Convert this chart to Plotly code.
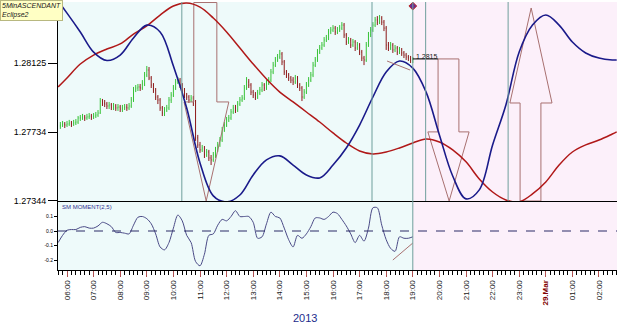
import pandas as pd
import plotly.graph_objects as go

DAY1 = "2013-03-28 "
DAY2 = "2013-03-29 "

# ---------------- 5-minute candles (05:45 .. 19:00) ----------------
candle_start = DAY1 + "05:45"
first_open = 1.27770
close = [
1.27775,1.27781,1.27775,1.27781,1.27787,1.27781,1.27787,1.27792,1.27815,1.27815,
1.27821,1.27815,1.27821,1.27826,1.27821,1.27826,1.27832,1.27843,1.27911,1.27900,
1.27894,1.27883,1.27889,1.27877,1.27883,1.27872,1.27877,1.27866,1.27872,1.27877,
1.27872,1.27883,1.27917,1.27974,1.27985,1.27991,1.27985,1.28008,1.28059,1.28087,
1.28042,1.28002,1.27974,1.27934,1.27917,1.27872,1.27843,1.27860,1.27872,1.27917,
1.27945,1.27985,1.28019,1.28030,1.28002,1.27974,1.27945,1.27934,1.27917,1.27928,
1.27900,1.27702,1.27662,1.27634,1.27645,1.27605,1.27622,1.27588,1.27577,1.27605,
1.27634,1.27662,1.27690,1.27747,1.27775,1.27804,1.27815,1.27849,1.27872,1.27860,
1.27894,1.27917,1.27928,1.27985,1.28019,1.28002,1.27962,1.27945,1.27934,1.27957,
1.27974,1.28002,1.27985,1.28013,1.28030,1.28076,1.28115,1.28144,1.28161,1.28178,
1.28133,1.28076,1.28059,1.28042,1.28030,1.28019,1.28042,1.28002,1.27985,1.27934,
1.27962,1.28002,1.28030,1.28059,1.28115,1.28144,1.28189,1.28212,1.28229,1.28257,
1.28269,1.28303,1.28314,1.28325,1.28303,1.28314,1.28325,1.28342,1.28286,1.28246,
1.28257,1.28229,1.28246,1.28212,1.28229,1.28189,1.28155,1.28144,1.28229,1.28286,
1.28314,1.28342,1.28371,1.28359,1.28382,1.28359,1.28325,1.28229,1.28212,1.28229,
1.28201,1.28212,1.28189,1.28201,1.28184,1.28172,1.28161,1.28155,1.28144,1.28150]
high = [
1.27792,1.27798,1.27792,1.27798,1.27804,1.27798,1.27804,1.27809,1.27826,1.27832,
1.27838,1.27832,1.27838,1.27843,1.27838,1.27843,1.27849,1.27860,1.27928,1.27923,
1.27917,1.27906,1.27906,1.27900,1.27900,1.27894,1.27894,1.27889,1.27889,1.27894,
1.27894,1.27900,1.27934,1.27991,1.28002,1.28008,1.28008,1.28030,1.28076,1.28110,
1.28104,1.28053,1.28013,1.27985,1.27945,1.27928,1.27883,1.27877,1.27889,1.27934,
1.27962,1.28002,1.28036,1.28047,1.28042,1.28013,1.27985,1.27957,1.27945,1.27945,
1.27940,1.27917,1.27719,1.27679,1.27662,1.27656,1.27639,1.27634,1.27605,1.27622,
1.27651,1.27679,1.27707,1.27764,1.27792,1.27821,1.27832,1.27866,1.27889,1.27889,
1.27911,1.27934,1.27945,1.28002,1.28047,1.28036,1.28013,1.27974,1.27962,1.27974,
1.27991,1.28019,1.28013,1.28030,1.28047,1.28093,1.28133,1.28161,1.28178,1.28201,
1.28189,1.28144,1.28087,1.28070,1.28053,1.28047,1.28059,1.28053,1.28013,1.27996,
1.27979,1.28019,1.28047,1.28076,1.28133,1.28161,1.28206,1.28229,1.28246,1.28274,
1.28286,1.28320,1.28331,1.28342,1.28337,1.28331,1.28342,1.28359,1.28354,1.28297,
1.28274,1.28269,1.28263,1.28257,1.28246,1.28240,1.28201,1.28167,1.28246,1.28303,
1.28331,1.28359,1.28388,1.28393,1.28399,1.28393,1.28371,1.28337,1.28246,1.28246,
1.28240,1.28229,1.28223,1.28218,1.28212,1.28195,1.28184,1.28172,1.28167,1.28161]
low = [
1.27753,1.27764,1.27758,1.27764,1.27770,1.27764,1.27770,1.27775,1.27781,1.27798,
1.27804,1.27798,1.27804,1.27809,1.27804,1.27809,1.27815,1.27821,1.27838,1.27883,
1.27877,1.27866,1.27866,1.27860,1.27860,1.27855,1.27855,1.27849,1.27849,1.27860,
1.27855,1.27860,1.27872,1.27906,1.27962,1.27968,1.27968,1.27974,1.27996,1.28047,
1.28030,1.27985,1.27957,1.27917,1.27894,1.27855,1.27826,1.27826,1.27849,1.27860,
1.27900,1.27934,1.27974,1.28008,1.27985,1.27957,1.27928,1.27917,1.27900,1.27906,
1.27883,1.27685,1.27645,1.27617,1.27622,1.27588,1.27594,1.27571,1.27548,1.27566,
1.27588,1.27622,1.27651,1.27679,1.27736,1.27764,1.27792,1.27804,1.27838,1.27843,
1.27849,1.27883,1.27906,1.27917,1.27974,1.27985,1.27945,1.27928,1.27917,1.27923,
1.27945,1.27962,1.27968,1.27974,1.28002,1.28019,1.28064,1.28104,1.28133,1.28150,
1.28115,1.28059,1.28042,1.28025,1.28013,1.28002,1.28008,1.27985,1.27968,1.27911,
1.27923,1.27951,1.27991,1.28019,1.28047,1.28104,1.28133,1.28178,1.28201,1.28218,
1.28246,1.28257,1.28291,1.28303,1.28286,1.28291,1.28303,1.28314,1.28269,1.28229,
1.28235,1.28212,1.28218,1.28195,1.28201,1.28172,1.28138,1.28115,1.28133,1.28218,
1.28274,1.28303,1.28331,1.28342,1.28348,1.28342,1.28308,1.28201,1.28195,1.28201,
1.28184,1.28189,1.28172,1.28178,1.28167,1.28155,1.28144,1.28138,1.28127,1.28127]
open_ = [first_open] + close[:-1]
candle_time = pd.date_range(candle_start, periods=len(close), freq="5min")

# ---------------- cycle curves (30-minute points) ----------------
curve_time = ([pd.Timestamp(DAY1 + "05:40")]
              + list(pd.date_range(DAY1 + "06:00", DAY2 + "02:30", freq="30min"))
              + [pd.Timestamp(DAY2 + "02:40")])
cycle_blue = [1.28478,1.28410,1.28303,1.28189,1.28141,1.28172,1.28269,1.28342,1.28303,1.28110,
              1.27872,1.27560,1.27373,1.27339,1.27378,1.27492,1.27577,1.27600,1.27548,1.27492,
              1.27475,1.27548,1.27645,1.27775,1.27934,1.28076,1.28138,1.28098,1.27962,1.27719,
              1.27486,1.27356,1.27407,1.27662,1.27889,1.28189,1.28342,1.28399,1.28342,1.28246,
              1.28184,1.28155,1.28144,1.28144]
cycle_red = [1.27991,1.28042,1.28121,1.28172,1.28206,1.28235,1.28291,1.28337,1.28399,1.28450,
             1.28467,1.28444,1.28382,1.28303,1.28212,1.28121,1.28036,1.27962,1.27906,1.27849,
             1.27792,1.27730,1.27673,1.27628,1.27611,1.27622,1.27645,1.27673,1.27696,1.27679,
             1.27634,1.27566,1.27469,1.27395,1.27350,1.27339,1.27384,1.27452,1.27548,1.27622,
             1.27662,1.27690,1.27724,1.27736]

# ---------------- SM MOMENT(2,5) (10-minute points, 05:40 .. 19:00) ----------------
moment_start = DAY1 + "05:40"
moment = [-0.08,-0.03,0.005,0.01,0.01,0.025,0.03,0.02,0.02,0.035,
          0.06,0.05,0.03,-0.01,-0.01,-0.015,-0.02,0.04,0.095,0.10,
          0.085,0.05,-0.02,-0.11,-0.13,-0.08,0.02,0.11,0.07,-0.03,
          -0.08,-0.21,-0.24,-0.16,-0.03,-0.02,0.04,0.08,0.07,0.10,
          0.14,0.10,0.10,0.10,0.06,-0.05,-0.04,0.05,0.13,0.10,
          0.09,0.02,-0.06,-0.11,-0.03,-0.05,-0.02,0.03,0.09,0.09,
          0.08,0.10,0.13,0.12,0.08,0.035,-0.02,-0.08,-0.03,-0.07,
          0.02,0.16,0.16,0.04,-0.06,-0.12,-0.14,-0.04,-0.05,-0.05,
          -0.04]
moment_time = pd.date_range(moment_start, periods=len(moment), freq="10min")

# ---------------- axes ----------------
x_range = [DAY1 + "05:39:42", DAY2 + "02:40:37"]
price_range = [1.27344, 1.28473]
price_ticks = [1.27344, 1.27734, 1.28125]
osc_range = [-0.269, 0.207]
osc_ticks = [0.1, 0.0, -0.1, -0.2]
osc_tick_text = ["0.1", "0.0", "-0.1", "-0.2"]
hour_ticks = list(pd.date_range(DAY1 + "06:00", DAY2 + "02:00", freq="h"))
date_label = "29.Mar"
year_label = "2013"

# ---------------- annotations / signals ----------------
now_time = DAY1 + "19:00"
signal_times = [DAY1 + "10:19", DAY1 + "17:28", DAY1 + "19:29", DAY1 + "22:35"]
last_price = 1.28150
last_price_end = DAY1 + "19:57"
marker_price = 1.28450

arrow_down1_t = [DAY1 + "10:24", DAY1 + "10:46", DAY1 + "11:14", DAY1 + "11:38", DAY1 + "12:05"]
arrow_down1_p = [1.28470, 1.27906, 1.27344]
arrow_down2_t = [DAY1 + "19:34", DAY1 + "19:57", DAY1 + "20:22", DAY1 + "20:44", DAY1 + "21:07"]
arrow_down2_p = [1.28150, 1.27736, 1.27344]
arrow_up_t = [DAY1 + "22:39", DAY1 + "23:02", DAY1 + "23:27", DAY1 + "23:49", DAY2 + "00:14"]
arrow_up_p = [1.27344, 1.27900, 1.28439]

div_price_t = [DAY1 + "18:02", DAY1 + "18:54"]
div_price_p = [1.28138, 1.28087]
div_osc_t = [DAY1 + "18:15", DAY1 + "19:00"]
div_osc_v = [-0.20, -0.083]

FONT = "Arial, Liberation Sans, sans-serif"
ARROW_C = "#a87070"
VLINE_C = "#6f9f9c"

def arrow_path(t, p):
    hl, sl, tip, sr, hr = t
    end, base, tp = p
    xs = [sl, sl, hl, tip, hr, sr, sr, sl]
    ys = [end, base, base, tp, base, base, end, end]
    return xs, ys

fig = go.Figure()

for t, p in [(arrow_down1_t, arrow_down1_p), (arrow_down2_t, arrow_down2_p), (arrow_up_t, arrow_up_p)]:
    xs, ys = arrow_path(t, p)
    fig.add_trace(go.Scatter(x=xs, y=ys, mode="lines", line=dict(color=ARROW_C, width=1),
                             xaxis="x", yaxis="y", showlegend=False, hoverinfo="skip"))

fig.add_trace(go.Scatter(x=curve_time, y=cycle_red, mode="lines",
                         line=dict(color="#b01818", width=1.5, shape="spline", smoothing=1.0),
                         xaxis="x", yaxis="y", showlegend=False))
fig.add_trace(go.Scatter(x=curve_time, y=cycle_blue, mode="lines",
                         line=dict(color="#1a1a8a", width=1.6, shape="spline", smoothing=1.0),
                         xaxis="x", yaxis="y", showlegend=False))

fig.add_trace(go.Ohlc(x=candle_time, open=open_, high=high, low=low, close=close,
                      increasing=dict(line=dict(color="#36c236", width=1)),
                      decreasing=dict(line=dict(color="#8c1818", width=1)),
                      tickwidth=0.2, xaxis="x", yaxis="y", showlegend=False))

fig.add_trace(go.Scatter(x=div_price_t, y=div_price_p, mode="lines", line=dict(color=ARROW_C, width=1),
                         xaxis="x", yaxis="y", showlegend=False))
fig.add_trace(go.Scatter(x=[now_time], y=[marker_price], mode="markers",
                         marker=dict(symbol="diamond", size=6, color="#6a2c8c", line=dict(color="#c02828", width=1)),
                         xaxis="x", yaxis="y", showlegend=False, cliponaxis=False))

fig.add_trace(go.Scatter(x=moment_time, y=moment, mode="lines",
                         line=dict(color="#4a4a86", width=1, shape="spline", smoothing=0.8),
                         xaxis="x2", yaxis="y2", showlegend=False))
fig.add_trace(go.Scatter(x=div_osc_t, y=div_osc_v, mode="lines", line=dict(color=ARROW_C, width=1),
                         xaxis="x2", yaxis="y2", showlegend=False))

MAIN_BOTTOM = 0.2575
shapes = [
    dict(type="rect", xref="x", yref="paper", x0=x_range[0], x1=now_time, y0=0, y1=1,
         fillcolor="#eefafa", line=dict(width=0), layer="below"),
    dict(type="rect", xref="x", yref="paper", x0=now_time, x1=x_range[1], y0=0, y1=1,
         fillcolor="#fcf0fa", line=dict(width=0), layer="below"),
    dict(type="line", xref="x", yref="paper", x0=now_time, x1=now_time, y0=0, y1=1,
         line=dict(color=VLINE_C, width=1)),
    dict(type="line", xref="paper", yref="y2", x0=0, x1=1, y0=0, y1=0,
         line=dict(color="#2a2a66", width=1, dash="dash")),
    dict(type="line", xref="x", yref="y", x0=now_time, x1=last_price_end, y0=last_price, y1=last_price,
         line=dict(color="black", width=1)),
]
for st in signal_times:
    shapes.append(dict(type="line", xref="x", yref="paper", x0=st, x1=st, y0=MAIN_BOTTOM, y1=1,
                       line=dict(color=VLINE_C, width=1)))

hour_text = []
for h in hour_ticks:
    if h.hour == 0:
        hour_text.append('<span style="color:#800000"><b>%s</b></span>' % date_label)
    else:
        hour_text.append(h.strftime("%H:%M"))

annotations = [
    dict(xref="paper", yref="paper", x=-58 / 559, y=1 + 2 / 268, xanchor="left", yanchor="top",
         text="<i>5MinASCENDANT</i><br><i>Eclipse2</i>", showarrow=False, align="left",
         font=dict(family=FONT, size=7, color="#202020"), bgcolor="#ffffc4",
         bordercolor="#b8b880", borderwidth=1, borderpad=1),
    dict(xref="paper", yref="paper", x=2 / 559, y=MAIN_BOTTOM - 1.5 / 268, xanchor="left", yanchor="top",
         text="SM MOMENT(2,5)", showarrow=False, font=dict(family=FONT, size=6, color="#303090")),
    dict(xref="x", yref="y", x=now_time, y=last_price, xanchor="left", yanchor="bottom", xshift=1, yshift=-3,
         text="1.2815", showarrow=False, font=dict(family=FONT, size=7, color="#202020")),
    dict(xref="paper", yref="paper", x=(305 - 58) / 559, y=(270 - 318) / 268, xanchor="center",
         yanchor="middle", text=year_label, showarrow=False, font=dict(family=FONT, size=11, color="#1c2c8c")),
]

fig.update_layout(
    width=625, height=329,
    margin=dict(l=58, r=8, t=2, b=59),
    paper_bgcolor="white", plot_bgcolor="#eefafa",
    showlegend=False,
    shapes=shapes, annotations=annotations,
    xaxis=dict(range=x_range, type="date", domain=[0, 1], anchor="y",
               showticklabels=False, ticks="", showgrid=False, zeroline=False,
               showline=True, linecolor="black", linewidth=1,
               rangeslider=dict(visible=False)),
    yaxis=dict(range=price_range, domain=[MAIN_BOTTOM, 1], anchor="x",
               tickmode="array", tickvals=price_ticks, ticktext=["%.5f" % v for v in price_ticks],
               ticks="outside", ticklen=9, tickcolor="black", tickwidth=1,
               tickfont=dict(family=FONT, size=9, color="black"),
               showline=True, linecolor="black", linewidth=1, showgrid=False, zeroline=False),
    xaxis2=dict(range=x_range, type="date", domain=[0, 1], anchor="y2", matches="x",
                tickmode="array", tickvals=hour_ticks, ticktext=hour_text, tickangle=-90,
                ticks="outside", ticklen=6, tickcolor="#b05050", tickwidth=1,
                tickfont=dict(family=FONT, size=8, color="#202020"),
                minor=dict(tickmode="linear", tick0=DAY1 + "06:00", dtick=600000,
                           ticks="outside", ticklen=4, tickcolor="black", showgrid=False),
                showline=True, linecolor="black", linewidth=1, showgrid=False, zeroline=False),
    yaxis2=dict(range=osc_range, domain=[0, MAIN_BOTTOM], anchor="x2",
                tickmode="array", tickvals=osc_ticks, ticktext=osc_tick_text,
                ticks="outside", ticklen=3, tickcolor="black",
                tickfont=dict(family=FONT, size=5, color="black"),
                showline=True, linecolor="black", linewidth=1, showgrid=False, zeroline=False),
)

fig.write_html("out.html")
